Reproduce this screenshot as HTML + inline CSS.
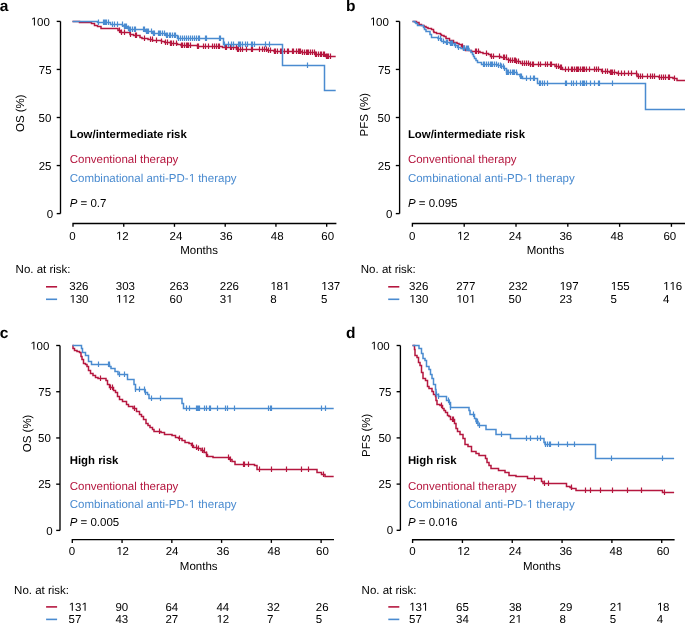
<!DOCTYPE html>
<html><head><meta charset="utf-8"><style>
html,body{margin:0;padding:0;background:#fff;}
svg{display:block;will-change:transform;}
text{font-family:"Liberation Sans", sans-serif;font-size:11.5px;fill:#000;text-rendering:geometricPrecision;font-kerning:none;}
text.pl{font-size:15.5px;font-weight:bold;fill:#000;}
.ax{fill:none;stroke:#000;stroke-width:1.35;}
</style></head><body>
<svg width="685" height="624" viewBox="0 0 685 624">
<path d="M60.5 21.4V213.6" class="ax"/>
<path d="M56.7 213.6H60.5" class="ax"/>
<text x="53.2" y="217.7" text-anchor="end">0</text>
<path d="M56.7 165.55H60.5" class="ax"/>
<text x="51.5" y="169.65" text-anchor="end">25</text>
<path d="M56.7 117.5H60.5" class="ax"/>
<text x="51.3" y="121.6" text-anchor="end">50</text>
<path d="M56.7 69.45H60.5" class="ax"/>
<text x="51.6" y="73.55" text-anchor="end">75</text>
<path d="M56.7 21.4H60.5" class="ax"/>
<text x="49.8" y="25.5" text-anchor="end"> 00</text>
<path d="M73 226.8V223.5H336.4" class="ax"/>
<path d="M123.74 223.5V226.8" class="ax"/>
<path d="M174.47 223.5V226.8" class="ax"/>
<path d="M225.21 223.5V226.8" class="ax"/>
<path d="M275.94 223.5V226.8" class="ax"/>
<path d="M326.68 223.5V226.8" class="ax"/>
<text x="72.55" y="239.7" text-anchor="middle">0</text>
<text x="122.2" y="239.7" text-anchor="middle"> 2</text>
<text x="175.95" y="239.7" text-anchor="middle">24</text>
<text x="226.25" y="239.7" text-anchor="middle">36</text>
<text x="277.15" y="239.7" text-anchor="middle">48</text>
<text x="327.75" y="239.7" text-anchor="middle">60</text>
<text x="199.1" y="254.2" text-anchor="middle">Months</text>
<text transform="translate(24.3 113.2) rotate(-90)" text-anchor="middle">OS (%)</text>
<text x="-0.3" y="10.8" class="pl">a</text>
<text x="69.7" y="138" font-weight="bold" style="font-size:11.4px">Low/intermediate risk</text>
<text x="69.7" y="163.2" style="fill:#B5173F">Conventional therapy</text>
<text x="69.7" y="182" style="fill:#4A8BD0">Combinational anti-PD-  therapy</text>
<text x="69.7" y="206.9"><tspan font-style="italic">P</tspan> = 0.7</text>
<text x="15.6" y="272.8">No. at risk:</text>
<path d="M46 286.8H57.1" stroke="#B5173F" stroke-width="1.6"/>
<path d="M46 299.3H57.1" stroke="#4A8BD0" stroke-width="1.6"/>
<text x="69.3" y="290">326</text>
<text x="69.3" y="302.8"> 30</text>
<text x="115.8" y="290">303</text>
<text x="115.8" y="302.8">  2</text>
<text x="169.5" y="290">263</text>
<text x="169.5" y="302.8">60</text>
<text x="219.8" y="290">226</text>
<text x="219.8" y="302.8">3 </text>
<text x="270.2" y="290"> 8 </text>
<text x="270.2" y="302.8">8</text>
<text x="321" y="290"> 37</text>
<text x="321" y="302.8">5</text>
<path d="M72.5 21.5H79.5V22.5H82.5V22.5H91.5V23.5H94.5V25.5H97.5V26.5H101V28.5H111V28.5H118V30.5H120.5V32.5H130V34.5H133.5V35.5H140V37.5H142V38.5H148V39.5H152.5V40.5H161.5V41.5H164.5V42.5H170.5V43.5H177.5V44.5H181V45.5H192.5V45.5H197.5V46.5H219.5V46.5H222.5V47.5H236.5V49.5H262.5V49.5H267.5V50.5H274V51.5H302V52.5H315V54.5H323V54.5H325.5V56.5H330V56.5H335.7" fill="none" stroke="#B5173F" stroke-width="1.5"/>
<path d="M119.5 27.55v5.4M121.5 29.55v5.4M124.5 29.55v5.4M130.5 31.55v5.4M135.5 32.55v5.4M136.5 32.55v5.4M144.5 35.55v5.4M150.5 36.55v5.4M152.5 36.55v5.4M156.5 37.55v5.4M161.5 38.55v5.4M165.5 39.55v5.4M167.5 39.55v5.4M170.5 40.55v5.4M171.5 40.55v5.4M173.5 40.55v5.4M176.5 40.55v5.4M181.5 42.55v5.4M182.5 42.55v5.4M184.5 42.55v5.4M186.5 42.55v5.4M187.5 42.55v5.4M188.5 42.55v5.4M190.5 42.55v5.4M197.5 43.55v5.4M198.5 43.55v5.4M203.5 43.55v5.4M205.5 43.55v5.4M208.5 43.55v5.4M212.5 43.55v5.4M214.5 43.55v5.4M216.5 43.55v5.4M218.5 43.55v5.4M219.5 43.55v5.4M225.5 44.55v5.4M226.5 44.55v5.4M230.5 44.55v5.4M231.5 44.55v5.4M233.5 44.55v5.4M236.5 44.55v5.4M237.5 46.55v5.4M238.5 46.55v5.4M240.5 46.55v5.4M242.5 46.55v5.4M246.5 46.55v5.4M251.5 46.55v5.4M252.5 46.55v5.4M259.5 46.55v5.4M262.5 46.55v5.4M264.5 46.55v5.4M266.5 46.55v5.4M268.5 47.55v5.4M270.5 47.55v5.4M274.5 48.55v5.4M275.5 48.55v5.4M277.5 48.55v5.4M280.5 48.55v5.4M281.5 48.55v5.4M282.5 48.55v5.4M284.5 48.55v5.4M287.5 48.55v5.4M288.5 48.55v5.4M292.5 48.55v5.4M293.5 48.55v5.4M296.5 48.55v5.4M298.5 48.55v5.4M299.5 48.55v5.4M300.5 48.55v5.4M302.5 49.55v5.4M304.5 49.55v5.4M306.5 49.55v5.4M307.5 49.55v5.4M308.5 49.55v5.4M310.5 49.55v5.4M312.5 49.55v5.4M314.5 49.55v5.4M315.5 51.55v5.4M316.5 51.55v5.4M318.5 51.55v5.4M320.5 51.55v5.4M321.5 51.55v5.4M323.5 51.55v5.4M324.5 51.55v5.4M326.5 53.55v5.4M327.5 53.55v5.4M328.5 53.55v5.4M330.5 53.55v5.4" fill="none" stroke="#B5173F" stroke-width="1.2"/>
<path d="M72.5 21.5H97.5V22.5H110.5V24.5H122.5V25.5H124V26.5H127.5V28.5H129V29.5H145.5V31.5H152.5V33.5H165.5V35.5H177.5V38.5H223.5V44.5H282.5V65.5H324.5V90.5H335.7" fill="none" stroke="#4A8BD0" stroke-width="1.5"/>
<path d="M98.5 19.55v5.4M103.5 19.55v5.4M104.5 19.55v5.4M105.5 19.55v5.4M106.5 19.55v5.4M108.5 19.55v5.4M112.5 21.55v5.4M114.5 21.55v5.4M117.5 21.55v5.4M122.5 21.55v5.4M124.5 23.55v5.4M125.5 23.55v5.4M126.5 23.55v5.4M128.5 25.55v5.4M129.5 26.55v5.4M130.5 26.55v5.4M132.5 26.55v5.4M134.5 26.55v5.4M135.5 26.55v5.4M143.5 26.55v5.4M144.5 26.55v5.4M146.5 28.55v5.4M147.5 28.55v5.4M148.5 28.55v5.4M151.5 28.55v5.4M153.5 30.55v5.4M154.5 30.55v5.4M158.5 30.55v5.4M159.5 30.55v5.4M160.5 30.55v5.4M162.5 30.55v5.4M164.5 30.55v5.4M166.5 32.55v5.4M167.5 32.55v5.4M169.5 32.55v5.4M170.5 32.55v5.4M172.5 32.55v5.4M174.5 32.55v5.4M175.5 32.55v5.4M178.5 35.55v5.4M180.5 35.55v5.4M182.5 35.55v5.4M184.5 35.55v5.4M186.5 35.55v5.4M188.5 35.55v5.4M190.5 35.55v5.4M192.5 35.55v5.4M194.5 35.55v5.4M196.5 35.55v5.4M198.5 35.55v5.4M199.5 35.55v5.4M205.5 35.55v5.4M206.5 35.55v5.4M219.5 35.55v5.4M220.5 35.55v5.4M224.5 41.55v5.4M228.5 41.55v5.4M231.5 41.55v5.4M233.5 41.55v5.4M238.5 41.55v5.4M239.5 41.55v5.4M240.5 41.55v5.4M242.5 41.55v5.4M245.5 41.55v5.4M247.5 41.55v5.4M251.5 41.55v5.4M252.5 41.55v5.4M254.5 41.55v5.4M265.5 41.55v5.4M269.5 41.55v5.4M307.5 62.55v5.4" fill="none" stroke="#4A8BD0" stroke-width="1.2"/>
<path d="M399.6 21.4V213.6" class="ax"/>
<path d="M395.8 213.6H399.6" class="ax"/>
<text x="392.3" y="217.7" text-anchor="end">0</text>
<path d="M395.8 165.55H399.6" class="ax"/>
<text x="390.6" y="169.65" text-anchor="end">25</text>
<path d="M395.8 117.5H399.6" class="ax"/>
<text x="390.4" y="121.6" text-anchor="end">50</text>
<path d="M395.8 69.45H399.6" class="ax"/>
<text x="390.7" y="73.55" text-anchor="end">75</text>
<path d="M395.8 21.4H399.6" class="ax"/>
<text x="388.9" y="25.5" text-anchor="end"> 00</text>
<path d="M412.4 226.8V223.5H686" class="ax"/>
<path d="M464.2 223.5V226.8" class="ax"/>
<path d="M516.01 223.5V226.8" class="ax"/>
<path d="M567.81 223.5V226.8" class="ax"/>
<path d="M619.62 223.5V226.8" class="ax"/>
<path d="M671.42 223.5V226.8" class="ax"/>
<text x="412.15" y="239.7" text-anchor="middle">0</text>
<text x="463.25" y="239.7" text-anchor="middle"> 2</text>
<text x="515.2" y="239.7" text-anchor="middle">24</text>
<text x="565.8" y="239.7" text-anchor="middle">36</text>
<text x="616.9" y="239.7" text-anchor="middle">48</text>
<text x="669.8" y="239.7" text-anchor="middle">60</text>
<text x="545.5" y="254.2" text-anchor="middle">Months</text>
<text transform="translate(368 114.7) rotate(-90)" text-anchor="middle">PFS (%)</text>
<text x="346" y="10.8" class="pl">b</text>
<text x="407.9" y="138" font-weight="bold" style="font-size:11.4px">Low/intermediate risk</text>
<text x="407.9" y="163.2" style="fill:#B5173F">Conventional therapy</text>
<text x="407.9" y="182" style="fill:#4A8BD0">Combinational anti-PD-  therapy</text>
<text x="407.9" y="206.9"><tspan font-style="italic">P</tspan> = 0.095</text>
<text x="360.8" y="272.8">No. at risk:</text>
<path d="M388.2 286.8H399.3" stroke="#B5173F" stroke-width="1.6"/>
<path d="M388.2 299.3H399.3" stroke="#4A8BD0" stroke-width="1.6"/>
<text x="409.1" y="290">326</text>
<text x="409.1" y="302.8"> 30</text>
<text x="456.2" y="290">277</text>
<text x="456.2" y="302.8"> 0 </text>
<text x="508.5" y="290">232</text>
<text x="508.5" y="302.8">50</text>
<text x="559.4" y="290"> 97</text>
<text x="559.4" y="302.8">23</text>
<text x="610.5" y="290"> 55</text>
<text x="610.5" y="302.8">5</text>
<text x="662.9" y="290">  6</text>
<text x="662.9" y="302.8">4</text>
<path d="M412.5 21.5H416.5V22.5H419V24.5H421.5V25.5H424V26.5H426V27.5H428V28.5H431.5V29.5H433.5V31.5H434V32.5H436.5V33.5H440.5V34.5H441.5V35.5H444V36.5H446V38.5H449.5V40.5H453.5V42.5H457V43.5H459V44.5H461.5V46.5H462.5V48.5H465.5V50.5H469.5V50.5H471.5V51.5H480V52.5H483V53.5H488.5V54.5H490.5V56.5H501V57.5H506.5V59.5H509V60.5H516.5V61.5H520.5V63.5H530V64.5H555V66.5H559.5V67.5H562.5V69.5H601.5V71.5H609.5V72.5H617V73.5H628.5V73.5H637V76.5H645V76.5H659V77.5H673V78.5H677V80.5H686" fill="none" stroke="#B5173F" stroke-width="1.5"/>
<path d="M462.5 43.55v5.4M463.5 45.55v5.4M464.5 45.55v5.4M475.5 48.55v5.4M476.5 48.55v5.4M478.5 48.55v5.4M486.5 50.55v5.4M491.5 53.55v5.4M493.5 53.55v5.4M499.5 53.55v5.4M503.5 54.55v5.4M504.5 54.55v5.4M506.5 54.55v5.4M508.5 57.55v5.4M510.5 57.55v5.4M512.5 57.55v5.4M514.5 57.55v5.4M515.5 57.55v5.4M516.5 58.55v5.4M518.5 58.55v5.4M522.5 60.55v5.4M524.5 60.55v5.4M526.5 60.55v5.4M528.5 60.55v5.4M530.5 61.55v5.4M532.5 61.55v5.4M533.5 61.55v5.4M538.5 61.55v5.4M540.5 61.55v5.4M545.5 61.55v5.4M547.5 61.55v5.4M550.5 61.55v5.4M551.5 61.55v5.4M556.5 63.55v5.4M558.5 63.55v5.4M560.5 64.55v5.4M561.5 64.55v5.4M565.5 66.55v5.4M568.5 66.55v5.4M571.5 66.55v5.4M572.5 66.55v5.4M574.5 66.55v5.4M576.5 66.55v5.4M577.5 66.55v5.4M578.5 66.55v5.4M580.5 66.55v5.4M582.5 66.55v5.4M583.5 66.55v5.4M584.5 66.55v5.4M586.5 66.55v5.4M589.5 66.55v5.4M594.5 66.55v5.4M596.5 66.55v5.4M598.5 66.55v5.4M602.5 68.55v5.4M605.5 68.55v5.4M607.5 68.55v5.4M610.5 69.55v5.4M611.5 69.55v5.4M612.5 69.55v5.4M614.5 69.55v5.4M618.5 70.55v5.4M621.5 70.55v5.4M624.5 70.55v5.4M628.5 70.55v5.4M631.5 70.55v5.4M636.5 70.55v5.4M638.5 73.55v5.4M640.5 73.55v5.4M642.5 73.55v5.4M647.5 73.55v5.4M650.5 73.55v5.4M652.5 73.55v5.4M654.5 73.55v5.4M659.5 74.55v5.4M661.5 74.55v5.4M663.5 74.55v5.4M665.5 74.55v5.4M668.5 74.55v5.4M669.5 74.55v5.4M674.5 75.55v5.4" fill="none" stroke="#B5173F" stroke-width="1.2"/>
<path d="M412.5 21.5H415V22.5H416V23.5H417.5V25.5H423.5V27.5H424.5V29.5H426V31.5H429V31.5H430V34.5H431.5V37.5H438V38.5H441.5V41.5H445V42.5H450V43.5H454.5V45.5H457.5V47.5H461V48.5H469V50.5H471V52.5H472.5V54.5H473.5V56.5H474.5V58.5H476V60.5H477.5V62.5H481.5V64.5H498V65.5H501.5V66.5H504V68.5H506.5V72.5H517V74.5H520V76.5H522.5V78.5H537.5V83.5H645.5V109.5H686" fill="none" stroke="#4A8BD0" stroke-width="1.5"/>
<path d="M438.5 35.55v5.4M440.5 35.55v5.4M443.5 38.55v5.4M446.5 39.55v5.4M447.5 39.55v5.4M450.5 40.55v5.4M451.5 40.55v5.4M452.5 40.55v5.4M455.5 42.55v5.4M458.5 44.55v5.4M463.5 45.55v5.4M464.5 45.55v5.4M466.5 45.55v5.4M467.5 45.55v5.4M468.5 45.55v5.4M483.5 61.55v5.4M484.5 61.55v5.4M486.5 61.55v5.4M488.5 61.55v5.4M490.5 61.55v5.4M491.5 61.55v5.4M492.5 61.55v5.4M494.5 61.55v5.4M496.5 61.55v5.4M498.5 62.55v5.4M500.5 62.55v5.4M501.5 63.55v5.4M503.5 63.55v5.4M504.5 65.55v5.4M506.5 69.55v5.4M507.5 69.55v5.4M508.5 69.55v5.4M510.5 69.55v5.4M512.5 69.55v5.4M513.5 69.55v5.4M514.5 69.55v5.4M516.5 69.55v5.4M520.5 73.55v5.4M521.5 73.55v5.4M526.5 75.55v5.4M530.5 75.55v5.4M533.5 75.55v5.4M534.5 75.55v5.4M539.5 80.55v5.4M540.5 80.55v5.4M542.5 80.55v5.4M544.5 80.55v5.4M547.5 80.55v5.4M565.5 80.55v5.4M566.5 80.55v5.4M571.5 80.55v5.4M573.5 80.55v5.4M576.5 80.55v5.4M580.5 80.55v5.4M582.5 80.55v5.4M583.5 80.55v5.4M584.5 80.55v5.4M586.5 80.55v5.4M590.5 80.55v5.4M594.5 80.55v5.4M598.5 80.55v5.4M599.5 80.55v5.4M612.5 80.55v5.4" fill="none" stroke="#4A8BD0" stroke-width="1.2"/>
<path d="M60 345.5V530.4" class="ax"/>
<path d="M56.2 530.4H60" class="ax"/>
<text x="52.7" y="534.5" text-anchor="end">0</text>
<path d="M56.2 484.17H60" class="ax"/>
<text x="51" y="488.27" text-anchor="end">25</text>
<path d="M56.2 437.95H60" class="ax"/>
<text x="50.8" y="442.05" text-anchor="end">50</text>
<path d="M56.2 391.73H60" class="ax"/>
<text x="51.1" y="395.83" text-anchor="end">75</text>
<path d="M56.2 345.5H60" class="ax"/>
<text x="49.3" y="349.6" text-anchor="end"> 00</text>
<path d="M72.3 542.9V539.6H334" class="ax"/>
<path d="M122.06 539.6V542.9" class="ax"/>
<path d="M171.83 539.6V542.9" class="ax"/>
<path d="M221.59 539.6V542.9" class="ax"/>
<path d="M271.36 539.6V542.9" class="ax"/>
<path d="M321.12 539.6V542.9" class="ax"/>
<text x="72" y="555" text-anchor="middle">0</text>
<text x="122.55" y="555" text-anchor="middle"> 2</text>
<text x="172.1" y="555" text-anchor="middle">24</text>
<text x="223" y="555" text-anchor="middle">36</text>
<text x="274" y="555" text-anchor="middle">48</text>
<text x="322.5" y="555" text-anchor="middle">60</text>
<text x="198.7" y="570.2" text-anchor="middle">Months</text>
<text transform="translate(30.5 433.4) rotate(-90)" text-anchor="middle">OS (%)</text>
<text x="-0.3" y="338" class="pl">c</text>
<text x="69.7" y="463.8" font-weight="bold" style="font-size:11.4px">High risk</text>
<text x="69.7" y="489.7" style="fill:#B5173F">Conventional therapy</text>
<text x="69.7" y="508" style="fill:#4A8BD0">Combinational anti-PD-  therapy</text>
<text x="69.7" y="525.6"><tspan font-style="italic">P</tspan> = 0.005</text>
<text x="14.1" y="593.5">No. at risk:</text>
<path d="M46.1 606.9H57.1" stroke="#B5173F" stroke-width="1.6"/>
<path d="M46.1 619.4H57.1" stroke="#4A8BD0" stroke-width="1.6"/>
<text x="68.5" y="610.7"> 3 </text>
<text x="68.5" y="622.8">57</text>
<text x="115.4" y="610.7">90</text>
<text x="115.4" y="622.8">43</text>
<text x="165.4" y="610.7">64</text>
<text x="165.4" y="622.8">27</text>
<text x="216.4" y="610.7">44</text>
<text x="216.4" y="622.8"> 2</text>
<text x="267.1" y="610.7">32</text>
<text x="267.1" y="622.8">7</text>
<text x="315.8" y="610.7">26</text>
<text x="315.8" y="622.8">5</text>
<path d="M72.5 345.5H73V348.5H74.5V350.5H77V351.5H79.5V352.5H81V356.5H82V359.5H83.5V363.5H85.5V364.5H87V366.5H88.5V370.5H90.5V373.5H93V375.5H95.5V377.5H98V378.5H102V378.5H106V380.5H107.5V384.5H109.5V387.5H113.5V390.5H115.5V392.5H117.5V396.5H119.5V399.5H122.5V401.5H126.5V404.5H128.5V406.5H133V408.5H136.5V411.5H139.5V414.5H141.5V416.5H143.5V419.5H146V423.5H148V425.5H150V427.5H152.5V429.5H154V431.5H161V432.5H164.5V434.5H172V435.5H175.5V437.5H178.5V438.5H182V440.5H185V442.5H189V443.5H191.5V445.5H193.5V447.5H197V448.5H201V450.5H204V452.5H206.5V454.5H207.5V456.5H213V457.5H229.5V459.5H232V461.5H235V464.5H254.5V465.5H257V469.5H317V472.5H321.5V474.5H325V476.5H333.7" fill="none" stroke="#B5173F" stroke-width="1.5"/>
<path d="M100.5 375.55v5.4M110.5 384.55v5.4M112.5 384.55v5.4M112.5 384.55v5.4M134.5 405.55v5.4M134.5 405.55v5.4M159.5 428.55v5.4M179.5 435.55v5.4M192.5 442.55v5.4M196.5 444.55v5.4M198.5 445.55v5.4M202.5 447.55v5.4M204.5 447.55v5.4M206.5 451.55v5.4M228.5 454.55v5.4M230.5 456.55v5.4M243.5 461.55v5.4M244.5 461.55v5.4M248.5 461.55v5.4M259.5 466.55v5.4M271.5 466.55v5.4M286.5 466.55v5.4M301.5 466.55v5.4M308.5 466.55v5.4M323.5 471.55v5.4" fill="none" stroke="#B5173F" stroke-width="1.2"/>
<path d="M72.5 345.5H81.5V348.5H82.5V352.5H85.5V355.5H88.5V361.5H91.5V364.5H109.5V366.5H111V368.5H115V371.5H118V374.5H127.5V379.5H134V384.5H135.5V389.5H145V392.5H147.5V394.5H149V398.5H182V403.5H183.5V408.5H333.7" fill="none" stroke="#4A8BD0" stroke-width="1.5"/>
<path d="M98.5 361.55v5.4M108.5 361.55v5.4M109.5 361.55v5.4M119.5 371.55v5.4M124.5 371.55v5.4M135.5 386.55v5.4M139.5 386.55v5.4M144.5 386.55v5.4M145.5 389.55v5.4M151.5 395.55v5.4M160.5 395.55v5.4M186.5 405.55v5.4M189.5 405.55v5.4M196.5 405.55v5.4M197.5 405.55v5.4M198.5 405.55v5.4M199.5 405.55v5.4M204.5 405.55v5.4M206.5 405.55v5.4M209.5 405.55v5.4M210.5 405.55v5.4M217.5 405.55v5.4M225.5 405.55v5.4M227.5 405.55v5.4M234.5 405.55v5.4M268.5 405.55v5.4M270.5 405.55v5.4M271.5 405.55v5.4M321.5 405.55v5.4M325.5 405.55v5.4" fill="none" stroke="#4A8BD0" stroke-width="1.2"/>
<path d="M400.4 345.5V530.3" class="ax"/>
<path d="M396.6 530.3H400.4" class="ax"/>
<text x="393.1" y="534.4" text-anchor="end">0</text>
<path d="M396.6 484.1H400.4" class="ax"/>
<text x="391.4" y="488.2" text-anchor="end">25</text>
<path d="M396.6 437.9H400.4" class="ax"/>
<text x="391.2" y="442" text-anchor="end">50</text>
<path d="M396.6 391.7H400.4" class="ax"/>
<text x="391.5" y="395.8" text-anchor="end">75</text>
<path d="M396.6 345.5H400.4" class="ax"/>
<text x="389.7" y="349.6" text-anchor="end"> 00</text>
<path d="M412.6 543V539.7H674.6" class="ax"/>
<path d="M462.42 539.7V543" class="ax"/>
<path d="M512.25 539.7V543" class="ax"/>
<path d="M562.07 539.7V543" class="ax"/>
<path d="M611.9 539.7V543" class="ax"/>
<path d="M661.72 539.7V543" class="ax"/>
<text x="412.5" y="555" text-anchor="middle">0</text>
<text x="463.4" y="555" text-anchor="middle"> 2</text>
<text x="515.2" y="555" text-anchor="middle">24</text>
<text x="565.8" y="555" text-anchor="middle">36</text>
<text x="616" y="555" text-anchor="middle">48</text>
<text x="663.1" y="555" text-anchor="middle">60</text>
<text x="541.8" y="570.2" text-anchor="middle">Months</text>
<text transform="translate(370.2 435.3) rotate(-90)" text-anchor="middle">PFS (%)</text>
<text x="346" y="338" class="pl">d</text>
<text x="407.9" y="463.8" font-weight="bold" style="font-size:11.4px">High risk</text>
<text x="407.9" y="489.7" style="fill:#B5173F">Conventional therapy</text>
<text x="407.9" y="508" style="fill:#4A8BD0">Combinational anti-PD-  therapy</text>
<text x="407.9" y="525.6"><tspan font-style="italic">P</tspan> = 0.0 6</text>
<text x="361.6" y="593.5">No. at risk:</text>
<path d="M388.3 606.9H399.3" stroke="#B5173F" stroke-width="1.6"/>
<path d="M388.3 619.4H399.3" stroke="#4A8BD0" stroke-width="1.6"/>
<text x="409" y="610.7"> 3 </text>
<text x="409" y="622.8">57</text>
<text x="456.1" y="610.7">65</text>
<text x="456.1" y="622.8">34</text>
<text x="508.9" y="610.7">38</text>
<text x="508.9" y="622.8">2 </text>
<text x="559.5" y="610.7">29</text>
<text x="559.5" y="622.8">8</text>
<text x="609.7" y="610.7">2 </text>
<text x="609.7" y="622.8">5</text>
<text x="656.7" y="610.7"> 8</text>
<text x="656.7" y="622.8">4</text>
<path d="M412.5 345.5H414.5V349.5H415V355.5H417V357.5H418.5V362.5H420V365.5H421.5V372.5H423V378.5H425.5V380.5H427.5V386.5H429V388.5H432V391.5H433.5V394.5H435.5V396.5H436V400.5H437V404.5H440V405.5H442.5V408.5H444V410.5H445.5V412.5H447.5V415.5H449V416.5H450.5V419.5H454.5V423.5H456V428.5H457.5V431.5H460V434.5H463V438.5H465V444.5H468V446.5H471.5V451.5H476V453.5H479V455.5H485.5V458.5H487V462.5H489V465.5H491V468.5H498.5V470.5H500.5V470.5H505V472.5H509V475.5H516V476.5H527.5V478.5H534.5V478.5H541.5V481.5H543V483.5H566.5V486.5H570V487.5H571.5V488.5H576V490.5H662.5V492.5H674.1" fill="none" stroke="#B5173F" stroke-width="1.5"/>
<path d="M441.5 402.55v5.4M452.5 416.55v5.4M453.5 416.55v5.4M534.5 475.55v5.4M544.5 480.55v5.4M548.5 480.55v5.4M571.5 484.55v5.4M585.5 487.55v5.4M590.5 487.55v5.4M600.5 487.55v5.4M612.5 487.55v5.4M627.5 487.55v5.4M641.5 487.55v5.4M664.5 489.55v5.4" fill="none" stroke="#B5173F" stroke-width="1.2"/>
<path d="M412.5 345.5H419V348.5H421.5V353.5H423V358.5H425V360.5H426.5V366.5H429V369.5H430.5V374.5H432V378.5H433.5V384.5H435.5V389.5H436V394.5H438.5V396.5H446.5V400.5H449V402.5H450.5V407.5H469V410.5H470V414.5H474.5V418.5H476V421.5H478V425.5H486V429.5H496V434.5H510.5V438.5H544V442.5H545V444.5H595.5V458.5H674.1" fill="none" stroke="#4A8BD0" stroke-width="1.5"/>
<path d="M436.5 391.55v5.4M438.5 393.55v5.4M448.5 397.55v5.4M449.5 399.55v5.4M450.5 404.55v5.4M473.5 411.55v5.4M476.5 418.55v5.4M477.5 418.55v5.4M479.5 422.55v5.4M501.5 431.55v5.4M501.5 431.55v5.4M526.5 435.55v5.4M530.5 435.55v5.4M537.5 435.55v5.4M540.5 435.55v5.4M545.5 441.55v5.4M547.5 441.55v5.4M549.5 441.55v5.4M550.5 441.55v5.4M558.5 441.55v5.4M567.5 441.55v5.4M574.5 441.55v5.4M611.5 455.55v5.4M662.5 455.55v5.4" fill="none" stroke="#4A8BD0" stroke-width="1.2"/>
<path d="M33.90 25.50 L33.90 18.55 L32.02 19.83 L32.02 18.87 L33.98 17.59 L34.91 17.59 L34.91 25.50ZM119.09 239.70 L119.09 232.75 L117.21 234.03 L117.21 233.07 L119.17 231.79 L120.10 231.79 L120.10 239.70ZM72.58 302.80 L72.58 295.85 L70.70 297.13 L70.70 296.17 L72.67 294.89 L73.60 294.89 L73.60 302.80ZM119.08 302.80 L119.08 295.85 L117.20 297.13 L117.20 296.17 L119.17 294.89 L120.10 294.89 L120.10 302.80ZM125.48 302.80 L125.48 295.85 L123.59 297.13 L123.59 296.17 L125.56 294.89 L126.49 294.89 L126.49 302.80ZM229.48 302.80 L229.48 295.85 L227.59 297.13 L227.59 296.17 L229.56 294.89 L230.49 294.89 L230.49 302.80ZM273.48 290.00 L273.48 283.05 L271.60 284.33 L271.60 283.37 L273.57 282.09 L274.50 282.09 L274.50 290.00ZM286.27 290.00 L286.27 283.05 L284.39 284.33 L284.39 283.37 L286.35 282.09 L287.28 282.09 L287.28 290.00ZM324.28 290.00 L324.28 283.05 L322.40 284.33 L322.40 283.37 L324.37 282.09 L325.30 282.09 L325.30 290.00ZM373.00 25.50 L373.00 18.55 L371.12 19.83 L371.12 18.87 L373.08 17.59 L374.01 17.59 L374.01 25.50ZM460.14 239.70 L460.14 232.75 L458.26 234.03 L458.26 233.07 L460.22 231.79 L461.15 231.79 L461.15 239.70ZM412.38 302.80 L412.38 295.85 L410.50 297.13 L410.50 296.17 L412.47 294.89 L413.40 294.89 L413.40 302.80ZM459.48 302.80 L459.48 295.85 L457.60 297.13 L457.60 296.17 L459.57 294.89 L460.50 294.89 L460.50 302.80ZM472.27 302.80 L472.27 295.85 L470.39 297.13 L470.39 296.17 L472.35 294.89 L473.28 294.89 L473.28 302.80ZM562.68 290.00 L562.68 283.05 L560.80 284.33 L560.80 283.37 L562.77 282.09 L563.70 282.09 L563.70 290.00ZM613.78 290.00 L613.78 283.05 L611.90 284.33 L611.90 283.37 L613.87 282.09 L614.80 282.09 L614.80 290.00ZM666.18 290.00 L666.18 283.05 L664.30 284.33 L664.30 283.37 L666.27 282.09 L667.20 282.09 L667.20 290.00ZM672.58 290.00 L672.58 283.05 L670.69 284.33 L670.69 283.37 L672.66 282.09 L673.59 282.09 L673.59 290.00ZM33.40 349.60 L33.40 342.65 L31.52 343.93 L31.52 342.97 L33.48 341.69 L34.41 341.69 L34.41 349.60ZM119.44 555.00 L119.44 548.05 L117.56 549.33 L117.56 548.37 L119.52 547.09 L120.45 547.09 L120.45 555.00ZM71.78 610.70 L71.78 603.75 L69.90 605.03 L69.90 604.07 L71.87 602.79 L72.80 602.79 L72.80 610.70ZM84.57 610.70 L84.57 603.75 L82.69 605.03 L82.69 604.07 L84.65 602.79 L85.58 602.79 L85.58 610.70ZM219.68 622.80 L219.68 615.85 L217.80 617.13 L217.80 616.17 L219.77 614.89 L220.70 614.89 L220.70 622.80ZM373.80 349.60 L373.80 342.65 L371.92 343.93 L371.92 342.97 L373.88 341.69 L374.81 341.69 L374.81 349.60ZM460.29 555.00 L460.29 548.05 L458.41 549.33 L458.41 548.37 L460.37 547.09 L461.30 547.09 L461.30 555.00ZM447.93 525.60 L447.93 518.65 L446.05 519.93 L446.05 518.97 L448.02 517.69 L448.95 517.69 L448.95 525.60ZM412.28 610.70 L412.28 603.75 L410.40 605.03 L410.40 604.07 L412.37 602.79 L413.30 602.79 L413.30 610.70ZM425.07 610.70 L425.07 603.75 L423.19 605.03 L423.19 604.07 L425.15 602.79 L426.08 602.79 L426.08 610.70ZM518.58 622.80 L518.58 615.85 L516.69 617.13 L516.69 616.17 L518.66 614.89 L519.59 614.89 L519.59 622.80ZM619.38 610.70 L619.38 603.75 L617.49 605.03 L617.49 604.07 L619.46 602.79 L620.39 602.79 L620.39 610.70ZM659.98 610.70 L659.98 603.75 L658.10 605.03 L658.10 604.07 L660.07 602.79 L661.00 602.79 L661.00 610.70Z" fill="rgb(0, 0, 0)"/>
<path d="M191.86 182.00 L191.86 175.05 L189.98 176.33 L189.98 175.37 L191.94 174.09 L192.88 174.09 L192.88 182.00ZM530.06 182.00 L530.06 175.05 L528.18 176.33 L528.18 175.37 L530.14 174.09 L531.08 174.09 L531.08 182.00ZM191.86 508.00 L191.86 501.05 L189.98 502.33 L189.98 501.37 L191.94 500.09 L192.88 500.09 L192.88 508.00ZM530.06 508.00 L530.06 501.05 L528.18 502.33 L528.18 501.37 L530.14 500.09 L531.08 500.09 L531.08 508.00Z" fill="rgb(74, 139, 208)"/>
</svg></body></html>
